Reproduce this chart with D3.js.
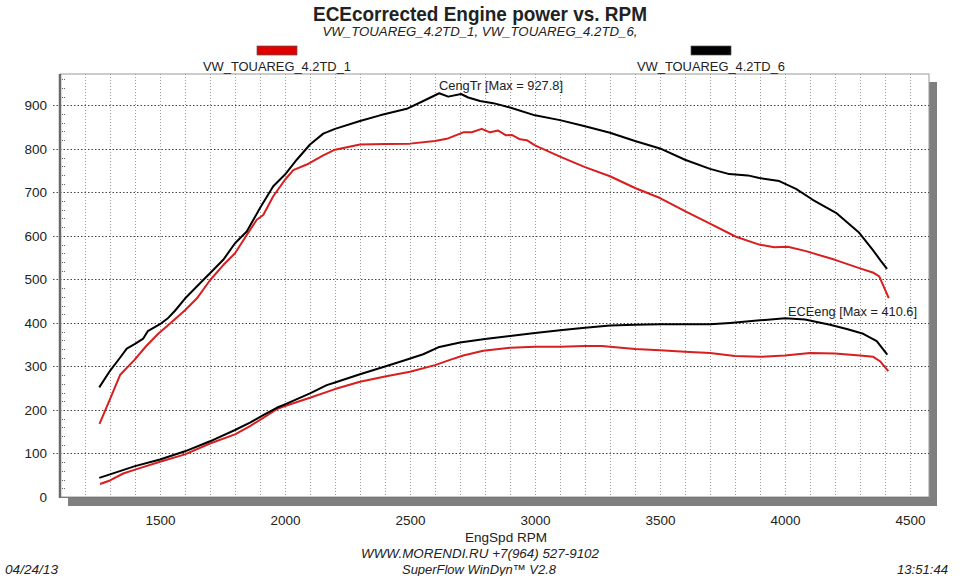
<!DOCTYPE html>
<html><head><meta charset="utf-8">
<script src="https://cdn.jsdelivr.net/npm/d3@7"></script>
<style>
html,body{margin:0;padding:0;background:#fff;}
svg text{font-family:"Liberation Sans",Arial,sans-serif;fill:#222;}
</style></head>
<body><svg id="c" width="960" height="576"></svg>
<script>
// ---- data ----
const seriesNames = ["VW_TOUAREG_4.2TD_1", "VW_TOUAREG_4.2TD_6"];
const seriesColors = ["#d81e1e", "#000000"];

const torque6Rpm = [1257,1300,1340,1367,1400,1433,1451,1500,1530,1560,1600,1660,1700,1753,1800,1847,1900,1953,2000,2047,2100,2153,2200,2300,2380,2487,2553,2617,2653,2704,2733,2780,2833,2900,3000,3100,3200,3300,3400,3500,3600,3700,3777,3851,3897,3977,4044,4111,4204,4297,4351,4384,4408];
const torque6 = [252,290,320,341,352,364,381,397,410,428,456,491,514,545,583,610,664,714,741,775,810,835,846,864,877,892,910,927.8,920,926,918,910,905,895,877,866,852,837,818,801,775,754,742,739,733,726,708,683,653,607,568,542,524];

const torque1Rpm = [1258,1300,1341,1398,1445,1493,1547,1600,1647,1700,1753,1800,1847,1887,1913,1953,2000,2033,2087,2153,2200,2300,2400,2500,2600,2647,2713,2747,2787,2820,2853,2884,2907,2940,2967,3000,3100,3200,3300,3400,3500,3600,3700,3804,3897,3957,4011,4084,4200,4297,4351,4377,4415];
const torque1 = [168,225,281,315,347,375,402,429,456,498,533,560,602,637,648,691,729,751,764,785,798,810,811,812,818,823,838,838,846,838,842,831,832,822,820,808,782,758,737,710,687,657,628,598,580,574,575,565,545,526,516,507,457];

const power6Rpm = [1257,1300,1400,1500,1600,1700,1800,1860,1913,1967,2000,2100,2167,2200,2300,2400,2473,2553,2613,2700,2800,2900,3000,3100,3200,3300,3400,3500,3600,3700,3780,3900,4000,4080,4180,4247,4313,4367,4409];
const power6 = [44,52,71,86,105,128,154,171,188,205,213,238,257,263,282,300,313,328,344,355,363,370,377,383,389,394,396,397,397,397,400,406,410.6,408,396,386,375,358,327];

const power1Rpm = [1260,1300,1353,1400,1500,1600,1700,1800,1860,1913,1967,2000,2100,2200,2300,2400,2500,2600,2660,2713,2793,2900,3000,3100,3200,3267,3400,3500,3600,3700,3800,3900,4000,4100,4200,4300,4353,4380,4413];
const power1 = [30,38,54,63,81,98,123,144,163,182,202,209,228,248,265,277,288,303,315,325,336,343,345,345,347,347,340,337,334,331,324,322,325,331,330,325,322,312,289];

const xTicks = [1500,2000,2500,3000,3500,4000,4500];
const yTicks = [0,100,200,300,400,500,600,700,800,900];

// ---- layout ----
const svg = d3.select("#c");
const L = 60, R = 929, T = 74, B = 497;
const x = d3.scaleLinear().domain([1100, 4576]).range([L, R]);
const y = d3.scaleLinear().domain([0, 972]).range([B, T]);

// shadow + plot bg
svg.append("rect").attr("x", L+8).attr("y", T+8).attr("width", R-L).attr("height", B-T+1).attr("fill", "#7f7f7f");
svg.append("rect").attr("x", L).attr("y", T).attr("width", R-L).attr("height", B-T).attr("fill", "#fff").attr("stroke", "#999").attr("stroke-width", 1);

// vertical grid every 100 rpm
const g = svg.append("g");
g.selectAll("line.v").data(d3.range(1200, 4576, 100)).join("line")
  .attr("x1", d => x(d)+0.5).attr("x2", d => x(d)+0.5).attr("y1", T).attr("y2", B)
  .attr("stroke", "#9a9a9a").attr("stroke-width", 1).attr("stroke-dasharray", "1,2");
// horizontal grid every 100
g.selectAll("line.h").data(yTicks.filter(d => d > 0)).join("line")
  .attr("x1", L-7).attr("x2", R).attr("y1", d => Math.round(y(d))+0.5).attr("y2", d => Math.round(y(d))+0.5)
  .attr("stroke", "#444").attr("stroke-width", 1).attr("stroke-dasharray", "1.5,2");
// minor y ticks
g.selectAll("line.m").data(d3.range(20, 972, 20).filter(d => d % 100 !== 0)).join("line")
  .attr("x1", L+2).attr("x2", L+6).attr("y1", d => Math.round(y(d))+0.5).attr("y2", d => Math.round(y(d))+0.5)
  .attr("stroke", "#666").attr("stroke-width", 1).attr("stroke-dasharray", "1,1");

// left axis line
svg.append("line").attr("x1", L).attr("x2", L).attr("y1", T).attr("y2", B+1).attr("stroke", "#6a6a6a").attr("stroke-width", 2.5);
svg.append("line").attr("x1", L).attr("x2", R).attr("y1", B+0.5).attr("y2", B+0.5).attr("stroke", "#777").attr("stroke-width", 1);

// axes labels via d3 axis
const yAxis = svg.append("g").attr("transform", `translate(${L-10},0)`)
  .call(d3.axisLeft(y).tickValues(yTicks).tickSize(0).tickPadding(3).tickFormat(d3.format("d")));
yAxis.select(".domain").remove();
yAxis.selectAll("text").attr("font-size", 13.5).attr("fill", "#222").style("font-family", "Liberation Sans, Arial, sans-serif");

const xAxis = svg.append("g").attr("transform", `translate(0,${B+18})`)
  .call(d3.axisBottom(x).tickValues(xTicks).tickSize(0).tickPadding(0).tickFormat(d3.format("d")));
xAxis.select(".domain").remove();
xAxis.selectAll("text").attr("font-size", 13.5).attr("fill", "#222").style("font-family", "Liberation Sans, Arial, sans-serif");

// lines
const line = d3.line().x(d => x(d[0])).y(d => y(d[1]));
const zip = (a, b) => a.map((v, i) => [v, b[i]]);
const series = [
  {pts: zip(torque1Rpm, torque1), c: seriesColors[0]},
  {pts: zip(power1Rpm, power1), c: seriesColors[0]},
  {pts: zip(torque6Rpm, torque6), c: seriesColors[1]},
  {pts: zip(power6Rpm, power6), c: seriesColors[1]},
];
svg.append("g").selectAll("path").data(series).join("path")
  .attr("d", d => line(d.pts)).attr("fill", "none").attr("stroke", d => d.c)
  .attr("stroke-width", 2).attr("stroke-linejoin", "round");

// text helper
function txt(s, px, py, size, opts = {}) {
  const t = svg.append("text").attr("x", px).attr("y", py).attr("font-size", size)
    .attr("text-anchor", opts.anchor || "middle").text(s);
  if (opts.bold) t.attr("font-weight", "bold");
  if (opts.italic) t.attr("font-style", "italic");
  if (opts.len) t.attr("textLength", opts.len).attr("lengthAdjust", "spacingAndGlyphs");
  if (opts.fill) t.attr("fill", opts.fill);
  return t;
}

txt("ECEcorrected Engine power vs. RPM", 480, 21, 21, {bold: true, len: 334, fill: "#000"});
txt("VW_TOUAREG_4.2TD_1, VW_TOUAREG_4.2TD_6,", 480, 36, 13, {italic: true, len: 315});

// legend
const legX = [277, 711];
seriesNames.forEach((n, i) => {
  svg.append("rect").attr("x", legX[i]-20).attr("y", 46).attr("width", 40).attr("height", 9)
    .attr("fill", seriesColors[i] === "#000000" ? "#000" : "#e00000").attr("stroke", "#555").attr("stroke-width", 0.7);
  txt(n, legX[i], 71, 13, {len: 148});
});

// annotations
txt("CengTr [Max = 927.8]", 439, 90, 13, {anchor: "start", len: 124});
txt("ECEeng [Max = 410.6]", 788, 316, 13, {anchor: "start", len: 129});

// axis title & footer
txt("EngSpd  RPM", 506, 542, 13, {len: 82});
txt("WWW.MORENDI.RU +7(964) 527-9102", 480, 558, 13, {italic: true, len: 238});
txt("SuperFlow WinDyn\u2122 V2.8", 479, 574, 13, {italic: true, len: 154});
txt("04/24/13", 5, 574, 13, {anchor: "start", italic: true, len: 53});
txt("13:51:44", 948, 574, 13, {anchor: "end", italic: true, len: 51});
</script></body></html>
